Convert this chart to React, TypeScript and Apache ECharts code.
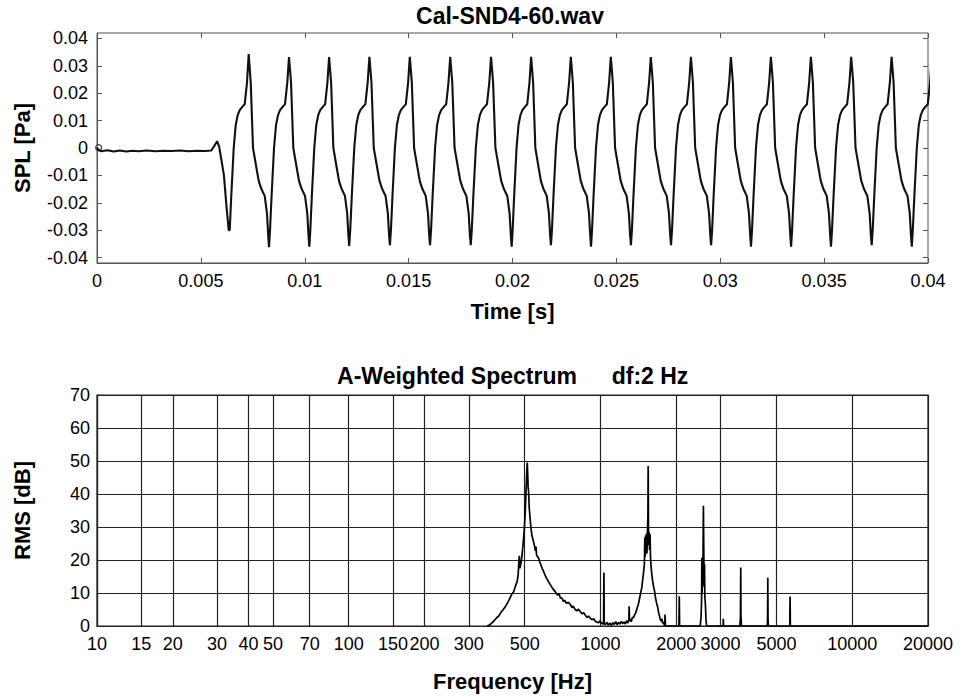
import React, { useEffect, useRef } from 'react';
import * as echarts from 'echarts';

// ---------- axis ticks ----------
const timeTicks = [0, 0.005, 0.01, 0.015, 0.02, 0.025, 0.03, 0.035, 0.04];
const splTicks = [-0.04, -0.03, -0.02, -0.01, 0, 0.01, 0.02, 0.03, 0.04];
const freqTicks = [10, 15, 20, 30, 40, 50, 70, 100, 150, 200, 300, 500, 1000, 2000, 3000, 5000, 10000, 20000];

// ---------- waveform (time [s], SPL [Pa]) ----------
const preOnset: [number, number][] = [
  [0, 0.0003], [0.00005, -0.0006], [0.0002, -0.0012], [0.0005, -0.0008], [0.0008, -0.0013],
  [0.0011, -0.0009], [0.0014, -0.0013], [0.0017, -0.001], [0.002, -0.0012], [0.0024, -0.0009],
  [0.0028, -0.0012], [0.0032, -0.001], [0.0036, -0.0011], [0.004, -0.0009], [0.0044, -0.0012],
  [0.0048, -0.001], [0.0052, -0.0011], [0.0055, -0.0009], [0.00565, 0.0008], [0.00578, 0.0025],
  [0.00588, 0.0005], [0.00598, -0.004], [0.00611, -0.01], [0.00624, -0.022],
];
// times of each trough of the periodic signal (last one is just past the axis end)
const cycleTroughTimes = [
  0.00634, 0.00828, 0.01022, 0.01214, 0.0141, 0.01603, 0.01799, 0.01996, 0.02185, 0.02378,
  0.0257, 0.02763, 0.02956, 0.03148, 0.03341, 0.03533, 0.03729, 0.03922, 0.04116,
];
const cycleTroughValues = [
  -0.03, -0.0362, -0.036, -0.0358, -0.0355, -0.0355, -0.0355, -0.036, -0.0355, -0.036,
  -0.0355, -0.0355, -0.0355, -0.036, -0.036, -0.036, -0.0355, -0.036, -0.036,
];
const cyclePeakValues = [
  0.0343, 0.0332, 0.0332, 0.0333, 0.0333, 0.0333, 0.0333, 0.0333, 0.0333,
  0.0333, 0.0332, 0.0333, 0.0332, 0.0333, 0.0333, 0.0333, 0.0333, 0.0333,
];
// one period: [fraction of period after trough, value]; null = the cycle's peak
const cycleShape: [number, number | null][] = [
  [0.025, -0.03], [0.062, -0.018], [0.124, 0.0], [0.174, 0.0084], [0.223, 0.012], [0.273, 0.0138],
  [0.347, 0.0152], [0.397, 0.016], [0.454, 0.024], [0.496, null], [0.546, 0.024], [0.603, 0.0],
  [0.687, -0.0072], [0.744, -0.012], [0.811, -0.015], [0.893, -0.0175], [0.95, -0.024], [0.98, -0.032],
];
const onsetMarker: [number, number][] = [[0.00008, 0.0001]];

// ---------- A-weighted spectrum (Hz, dB) ----------
const fundamentalBand: [number, number][] = [
  [355, 0], [362, 0.3], [370, 0.9], [378, 1.6], [387, 2.5], [395, 3.1], [403, 4.2], [411, 5.0],
  [420, 6.0], [430, 7.4], [444, 9.6], [452, 10.4], [460, 12.2], [467, 13.6], [471, 15.5], [474, 19.5],
  [476, 21.3], [478, 17.5], [481, 18.2], [484, 19.4], [488, 21.5], [491, 23.5], [494, 25.8], [498, 29],
  [502, 34], [505, 38.9], [508, 44], [510, 47], [512, 49.5], [514, 46], [516, 42], [518, 40.9],
  [521, 36], [525, 32.8], [529, 30], [534, 27.5], [541, 25.8], [547, 24.2], [551, 22.8], [553, 24],
  [555, 23.8], [557, 21.6], [562, 21], [567, 20.7], [574, 19.4], [580, 18.5], [587, 17.4], [593, 16.7],
  [601, 15.6], [610, 14.5], [620, 13.6], [631, 12.6], [645, 11.4], [660, 10.5], [675, 9.3], [684, 9.9],
  [692, 8.6], [705, 8.3], [713, 7.4], [720, 7.8], [732, 6.9], [745, 7.2], [758, 6.6], [770, 5.6],
  [780, 6.0], [790, 5.2], [805, 4.6], [818, 5.1], [830, 4.4], [845, 3.7], [858, 4.0], [870, 3.3],
  [885, 2.6], [897, 3.0], [910, 2.4], [925, 1.9], [940, 2.2], [952, 1.5], [965, 1.2], [982, 1.0],
  [995, 1.6], [1010, 0.9], [1022, 0.6],
];
const secondHarmonicBand: [number, number][] = [
  [1029, 0.8], [1032, 16.2], [1035, 0.7], [1045, 0.4], [1060, 1.1], [1075, 0.3], [1090, 0.9],
  [1105, 0.2], [1120, 1.0], [1135, 0.5], [1150, 1.3], [1165, 0.4], [1180, 1.1], [1195, 0.6],
  [1210, 1.4], [1225, 0.7], [1240, 1.2], [1255, 0.6], [1270, 1.6], [1285, 0.9], [1296, 1.8],
  [1300, 6.0], [1304, 1.5], [1315, 2.0], [1325, 1.3], [1338, 2.6], [1352, 2.5], [1365, 3.3],
  [1380, 4.0], [1395, 5.2], [1414, 6.6], [1430, 8.4], [1445, 10.1], [1459, 11.6], [1470, 13.8],
  [1482, 16.0], [1494, 18.7], [1500, 26.8], [1506, 21], [1512, 27.5], [1518, 23], [1524, 28],
  [1530, 22], [1536, 28.2], [1543, 33], [1547, 48.5], [1551, 30], [1556, 24.5], [1561, 28.3],
  [1567, 23], [1574, 27.8], [1580, 21], [1587, 18.5], [1594, 16.7], [1610, 13.8], [1625, 12.0],
  [1640, 10.6], [1655, 8.4], [1670, 7.0], [1689, 5.6], [1700, 4.2], [1715, 3.1], [1728, 2.0],
  [1740, 1.5], [1755, 2.2], [1765, 0.8], [1778, 1.2], [1790, 0.5], [1800, 0], [1805, 3.5], [1812, 0],
];
const harmonicSpikes: [number, number][] = [
  [2050, 0], [2056, 9.0], [2062, 0],
  [2490, 0], [2510, 3], [2522, 8], [2527, 20.7], [2533, 10], [2545, 14], [2555, 22], [2564, 36.4],
  [2572, 24], [2582, 12], [2590, 18.7], [2598, 9], [2610, 6.6], [2625, 2], [2640, 0],
  [3070, 0], [3076, 2.2], [3082, 0],
  [3580, 0], [3598, 2.6], [3607, 17.7], [3615, 3.0], [3630, 0],
  [4600, 0], [4612, 3.0], [4620, 14.6], [4630, 2.2], [4645, 0],
  [5648, 0], [5664, 8.9], [5680, 0], [20000, 0],
];

function buildWaveform(): [number, number][] {
  const pts: [number, number][] = preOnset.slice();
  for (let i = 0; i < cycleTroughTimes.length - 1; i++) {
    const t0 = cycleTroughTimes[i];
    const t1 = cycleTroughTimes[i + 1];
    pts.push([t0, cycleTroughValues[i]]);
    for (const [ph, v] of cycleShape) {
      pts.push([t0 + ph * (t1 - t0), v === null ? cyclePeakValues[i] : v]);
    }
  }
  const last = cycleTroughTimes.length - 1;
  pts.push([cycleTroughTimes[last], cycleTroughValues[last]]);
  return pts;
}

const FONT = "'Liberation Sans', Arial, Helvetica, sans-serif";

export default function App() {
  const ref = useRef<HTMLDivElement>(null);
  useEffect(() => {
    if (!ref.current) return;
    const chart = echarts.init(ref.current, null, { renderer: 'svg' });
    const tickLabel = { fontSize: 18, color: '#000', fontFamily: FONT };
    const nameStyle = { fontSize: 22, fontWeight: 'bold', color: '#000', fontFamily: FONT };
    const frameTop = '#555';
    const frameBot = '#222';
    const option: any = {
      animation: false,
      backgroundColor: '#fff',
      textStyle: { fontFamily: FONT },
      graphic: [
        { type: 'text', x: 510, y: 15.5, style: { text: 'Cal-SND4-60.wav', textAlign: 'center', textVerticalAlign: 'middle', font: `bold 23px ${FONT}`, fill: '#000' } },
        { type: 'text', x: 457, y: 375.5, style: { text: 'A-Weighted Spectrum', textAlign: 'center', textVerticalAlign: 'middle', font: `bold 23px ${FONT}`, fill: '#000' } },
        { type: 'text', x: 650, y: 375.5, style: { text: 'df:2 Hz', textAlign: 'center', textVerticalAlign: 'middle', font: `bold 23px ${FONT}`, fill: '#000' } },
      ],
      grid: [
        { left: 97, top: 33, width: 831, height: 230, show: true, borderColor: frameTop, borderWidth: 1 },
        { left: 97, top: 395, width: 831, height: 231, show: true, borderColor: frameBot, borderWidth: 1.2 },
      ],
      xAxis: [
        {
          gridIndex: 0, type: 'value', min: 0, max: 0.04, position: 'bottom',
          name: 'Time [s]', nameLocation: 'middle', nameGap: 37, nameTextStyle: nameStyle,
          axisLine: { show: true, onZero: false, lineStyle: { color: frameTop, width: 1 } },
          axisTick: { show: true, inside: true, length: 5, lineStyle: { color: frameTop }, customValues: timeTicks },
          axisLabel: { ...tickLabel, margin: 9, customValues: timeTicks, formatter: (v: number) => String(v) },
          splitLine: { show: false },
        },
        {
          gridIndex: 0, type: 'value', min: 0, max: 0.04, position: 'top',
          axisLine: { show: false, onZero: false },
          axisTick: { show: true, inside: true, length: 5, lineStyle: { color: frameTop }, customValues: timeTicks },
          axisLabel: { show: false },
          splitLine: { show: false },
        },
        {
          gridIndex: 1, type: 'log', logBase: 10, min: 10, max: 20000,
          name: 'Frequency [Hz]', nameLocation: 'middle', nameGap: 44, nameTextStyle: nameStyle,
          axisLine: { show: true, onZero: false, lineStyle: { color: frameBot, width: 1.2 } },
          axisTick: { show: false, customValues: freqTicks },
          axisLabel: { ...tickLabel, margin: 9, customValues: freqTicks, formatter: (v: number) => String(Math.round(v)) },
          splitLine: { show: true, lineStyle: { color: frameBot, width: 1.2 } },
          minorSplitLine: { show: false },
        },
      ],
      yAxis: [
        {
          gridIndex: 0, type: 'value', min: -0.042, max: 0.042,
          name: 'SPL [Pa]', nameLocation: 'middle', nameGap: 64, nameTextStyle: nameStyle,
          axisLine: { show: true, onZero: false, lineStyle: { color: frameTop, width: 1 } },
          axisTick: { show: true, inside: true, length: 5, lineStyle: { color: frameTop }, customValues: splTicks },
          axisLabel: { ...tickLabel, margin: 9, customValues: splTicks, formatter: (v: number) => String(v) },
          splitLine: { show: false },
        },
        {
          gridIndex: 0, type: 'value', min: -0.042, max: 0.042, position: 'right',
          axisLine: { show: false, onZero: false },
          axisTick: { show: true, inside: true, length: 5, lineStyle: { color: frameTop }, customValues: splTicks },
          axisLabel: { show: false },
          splitLine: { show: false },
        },
        {
          gridIndex: 1, type: 'value', min: 0, max: 70, interval: 10,
          name: 'RMS [dB]', nameLocation: 'middle', nameGap: 64, nameTextStyle: nameStyle,
          axisLine: { show: true, onZero: false, lineStyle: { color: frameBot, width: 1.2 } },
          axisTick: { show: false },
          axisLabel: { ...tickLabel, margin: 7 },
          splitLine: { show: true, lineStyle: { color: frameBot, width: 1.2 } },
        },
      ],
      series: [
        {
          type: 'line', xAxisIndex: 0, yAxisIndex: 0, data: buildWaveform(),
          showSymbol: false, symbol: 'none', clip: true,
          lineStyle: { color: '#111', width: 2.1 },
        },
        {
          type: 'scatter', xAxisIndex: 0, yAxisIndex: 0, data: onsetMarker,
          symbol: 'circle', symbolSize: 6,
          itemStyle: { color: '#fff', borderColor: '#111', borderWidth: 1.2 },
        },
        {
          type: 'line', xAxisIndex: 2, yAxisIndex: 2,
          data: [...fundamentalBand, ...secondHarmonicBand, ...harmonicSpikes],
          showSymbol: false, symbol: 'none', clip: true,
          lineStyle: { color: '#000', width: 1.7 },
        },
      ],
    };
    chart.setOption(option);
    return () => chart.dispose();
  }, []);
  return <div ref={ref} style={{ position: 'fixed', left: 0, top: 0, width: 962, height: 696 }} />;
}
